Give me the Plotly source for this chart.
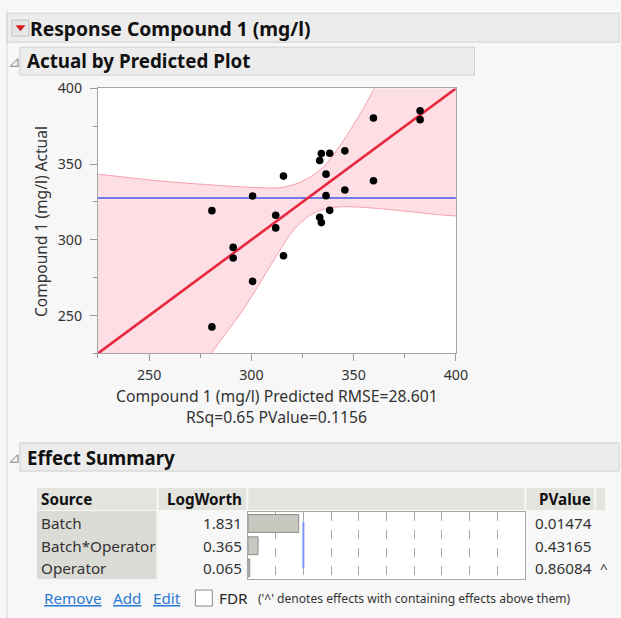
import plotly.graph_objects as go
import numpy as np

# ---------------- data ----------------
predicted = [280.7, 280.7, 291.1, 291.1, 300.6, 300.6, 311.9, 311.9, 315.7, 315.7,
             333.4, 334.2, 333.4, 334.2, 336.5, 336.5, 338.3, 338.3, 345.7, 345.7,
             359.7, 359.7, 382.5, 382.5]
actual = [319.3, 242.5, 295.0, 288.0, 329.0, 272.6, 316.2, 307.9, 342.1, 289.5,
          352.4, 357.0, 314.9, 311.4, 343.4, 329.2, 357.2, 319.5, 358.8, 332.9,
          380.5, 339.0, 385.3, 379.4]

# confidence curves (left -> right)
upper_x = [225, 256.4, 288.8, 305.1, 314.0, 322.3, 328.8, 335.3, 345.1, 353.2, 359.7]
upper_y = [343.4, 338.8, 335.5, 334.4, 334.4, 337.2, 341.6, 348.2, 365.8, 383.3, 399.1]
lower_x = [280.7, 297.0, 313.0, 320.7, 328.8, 336.9, 345.1, 361.3, 377.5, 400]
lower_y = [225.4, 256.0, 291.0, 306.6, 316.4, 320.8, 321.9, 320.8, 318.6, 315.8]

fit_x = [225, 400]           # line of fit: actual = predicted
axis_range = [225, 400]
tick_vals = [250, 300, 350, 400]

sources = ["Batch", "Batch*Operator", "Operator"]
logworth = [1.831, 0.365, 0.065]
pvalues = ["0.01474", "0.43165", "0.86084"]
contained = ["", "", "^"]

rmse, rsq, model_p = "28.601", "0.65", "0.1156"

# ---------------- helpers ----------------
S = 0.984              # observed page->picture scale
OY = 10                # observed offset above the figure (page px)
FW, FH = 631, 618      # figure size that fills the picture
FONT = "Noto Sans"


def X(px):
    return (px / S) / FW


def Y(py):
    return 1 - (py / S - OY) / FH


def F(sz):
    return sz / S


shapes = []
annos = []


def rect(x0, y0, x1, y1, fill, line=None, lw=1):
    shapes.append(dict(type="rect", xref="paper", yref="paper",
                       x0=X(x0), x1=X(x1), y0=Y(y1), y1=Y(y0),
                       fillcolor=fill, line=dict(color=line or fill, width=lw if line else 0),
                       layer="below"))


def text(x, y, s, size=15, color="#222", anchor="left", bold=False, angle=0, fam=FONT):
    annos.append(dict(x=X(x), y=Y(y), xref="paper", yref="paper", text=(f"<b>{s}</b>" if bold else s),
                      showarrow=False, xanchor=anchor, yanchor="middle", textangle=angle,
                      borderpad=0, borderwidth=0,
                      font=dict(size=F(size), color=color, family=fam)))


# ---------------- page chrome ----------------
rect(7, 10, 621, 13, "#fcfcfc")
rect(7, 13, 621, 42, "#ececec", "#d2d2d2")
rect(12, 20, 29, 36, "#e6e6e6", "#c4c4c4")
shapes.append(dict(type="path", xref="paper", yref="paper",
                   path=f"M {X(15.5)} {Y(25)} L {X(25.5)} {Y(25)} L {X(20.5)} {Y(31)} Z",
                   fillcolor="#d42020", line=dict(width=0)))
text(30, 28, "Response Compound 1 (mg/l)", size=19, color="#111", bold=True)

rect(20, 47, 476, 75, "#ececec", "#cfcfcf")
text(8, 61, "⊿", size=15, color="#9a9a9a")
text(27, 61, "Actual by Predicted Plot", size=18.5, color="#111", bold=True)

rect(20, 443, 621, 471, "#ececec", "#cfcfcf")
text(8, 457, "⊿", size=15, color="#9a9a9a")
text(27, 457, "Effect Summary", size=18.4, color="#111", bold=True)

shapes.append(dict(type="line", xref="paper", yref="paper", x0=X(7), x1=X(7), y0=0, y1=Y(10),
                   line=dict(color="#d4d4d4", width=1)))

# ---------------- table ----------------
hdr = "#e4e4df"
rect(37, 488, 157, 510, hdr)
rect(159, 488, 247, 510, hdr)
rect(249, 488, 526, 510, hdr)
rect(528, 488, 596, 510, hdr)
rect(598, 488, 607, 510, hdr)
rect(37, 511, 157, 579, "#dcdcd6")
text(41, 499, "Source", size=15, color="#111", bold=True)
text(243, 499, "LogWorth", size=15, color="#111", bold=True, anchor="right")
text(593, 499, "PValue", size=15, color="#111", bold=True, anchor="right")
row_y = [523, 546, 568]
for s, lw_, pv, c, yy in zip(sources, logworth, pvalues, contained, row_y):
    text(41, yy, s, size=15, color="#333")
    text(243, yy, f"{lw_:.3f}", size=15, color="#333", anchor="right")
    text(537, yy, pv, size=15, color="#333")
    if c:
        text(602, yy, c, size=13, color="#333")

# bottom links
link = "#2a7ad5"
text(44, 598, "<u>Remove</u>", size=15, color=link)
text(113, 598, "<u>Add</u>", size=15, color=link)
text(153, 598, "<u>Edit</u>", size=15, color=link)
rect(196, 590, 213, 606, "#ffffff", "#8a8a8a")
text(220, 598, "FDR", size=15, color="#222")
text(259, 598, "('^' denotes effects with containing effects above them)", size=11.9, color="#333")

# ---------------- figure ----------------
fig = go.Figure()

# band polygon (read curves, closed outside the visible range)
band_x = upper_x + [380, 470, 470] + lower_x[::-1] + [260, 180, 180]
band_y = upper_y + [460, 460, 315.8] + lower_y[::-1] + [180, 180, 343.4]
fig.add_trace(go.Scatter(x=band_x, y=band_y, mode="lines", fill="toself",
                         fillcolor="rgb(252,222,228)", line=dict(color="rgb(246,160,172)", width=1,
                                                                 shape="spline", smoothing=0.8),
                         hoverinfo="skip", showlegend=False))

mean_y = float(np.mean(actual))
fig.add_trace(go.Scatter(x=axis_range, y=[mean_y, mean_y], mode="lines",
                         line=dict(color="rgb(112,122,232)", width=2), showlegend=False))
fig.add_trace(go.Scatter(x=fit_x, y=fit_x, mode="lines",
                         line=dict(color="rgb(232,40,62)", width=2.6), showlegend=False))
fig.add_trace(go.Scatter(x=predicted, y=actual, mode="markers",
                         marker=dict(color="black", size=7.6), showlegend=False))

# effect summary bars
fig.add_trace(go.Bar(x=logworth, y=sources, orientation="h", xaxis="x2", yaxis="y2",
                     width=0.8, marker=dict(color="rgb(200,200,192)", line=dict(color="#8c8c86", width=1)),
                     showlegend=False))

shapes.append(dict(type="line", xref="x2", yref="y2 domain", x0=2, x1=2, y0=0.16, y1=0.86,
                   line=dict(color="rgb(122,152,240)", width=2)))

ax_common = dict(showline=True, mirror=True, linecolor="#a6a6a6", linewidth=1, showgrid=False,
                 zeroline=False, ticks="outside", ticklen=7, tickcolor="#9a9a9a",
                 tickfont=dict(family=FONT, size=F(14), color="#333"))

# axis titles
text(41, 221, "Compound 1 (mg/l) Actual", size=15.3, color="#333", angle=-90, anchor="center")
text(277.5, 395.5, f"Compound 1 (mg/l) Predicted RMSE={rmse}", size=15.5, color="#333", anchor="center")
text(277.5, 417, f"RSq={rsq} PValue={model_p}", size=15.5, color="#333", anchor="center")

fig.update_layout(
    width=FW, height=FH, margin=dict(l=0, r=0, t=0, b=0),
    paper_bgcolor="#f7f7f7", plot_bgcolor="#ffffff",
    font=dict(family=FONT),
    xaxis=dict(domain=[X(98.3), X(457.3)], range=axis_range, tickvals=tick_vals,
               minor=dict(dtick=25, tick0=225, ticklen=4, tickcolor="#9a9a9a", ticks="outside"),
               ticklabelstandoff=2, **ax_common),
    yaxis=dict(domain=[Y(353.3), Y(88.3)], range=axis_range, tickvals=tick_vals,
               minor=dict(dtick=25, tick0=225, ticklen=4, tickcolor="#9a9a9a", ticks="outside"),
               ticklabelstandoff=5, **ax_common),
    xaxis2=dict(domain=[X(248.7), X(526.7)], range=[0, 10], dtick=1, showgrid=True,
                gridcolor="#a8a8a8", griddash="dash", gridwidth=1, showticklabels=False,
                showline=True, mirror=True, linecolor="#a6a6a6", zeroline=False, anchor="y2"),
    yaxis2=dict(domain=[Y(579), Y(512.3)], range=[2.5, -0.5], showticklabels=False,
                showline=True, mirror=True, linecolor="#a6a6a6", showgrid=False, zeroline=False,
                anchor="x2"),
    shapes=shapes, annotations=annos, bargap=0.2,
)

fig.write_html("out.html")
